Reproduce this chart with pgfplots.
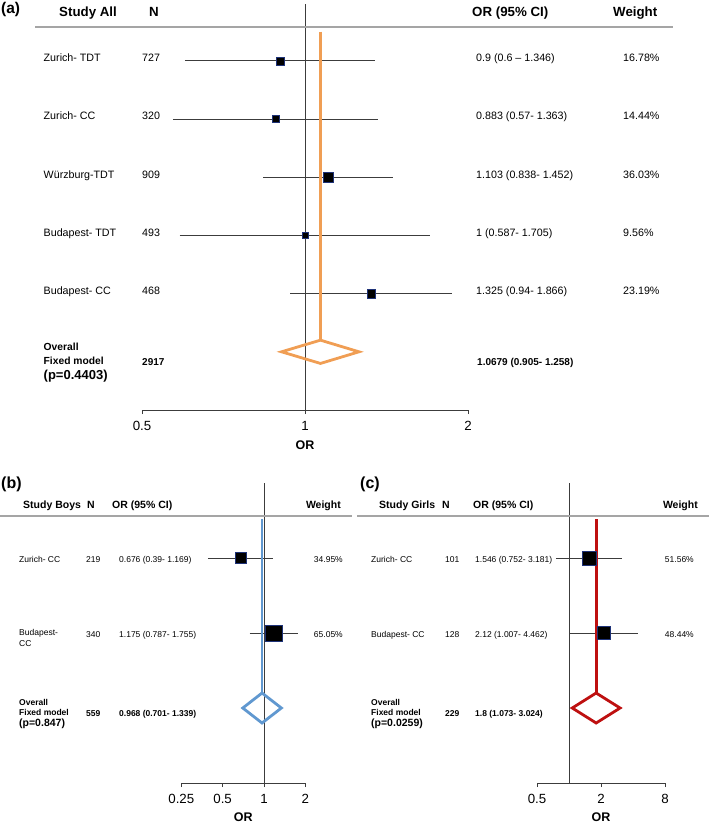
\documentclass[border=0pt]{standalone}
\usepackage{pgfplots}
\pgfplotsset{compat=1.18}
\usepackage{fontspec}
\setmainfont{Liberation Sans}
\definecolor{orng}{RGB}{240,158,84}
\definecolor{bblue}{RGB}{96,152,208}
\definecolor{dred}{RGB}{190,16,16}
\definecolor{sqedge}{RGB}{30,50,120}
\definecolor{hdr}{RGB}{165,165,165}
\definecolor{cil}{RGB}{60,60,60}
\newcommand{\fs}[1]{\fontsize{#1}{#1}\selectfont}
\tikzset{ci/.style={cil, line width=0.8pt}}
\begin{document}
\begin{tikzpicture}
\path[use as bounding box] (0pt,0pt) rectangle (709pt,-824pt);
% ---------------- panel (a)
\begin{axis}[scale only axis, xmode=log, log basis x=2,
  axis x line*=bottom, axis y line=none,
  enlargelimits=false, clip=false,
  tick align=outside, major tick length=4pt,
  x axis line style={draw=cil, line width=0.8pt},
  xtick style={draw=cil, line width=0.8pt},
  xminorticks=false,
  xticklabel style={font=\fs{13.3}, inner sep=0pt, anchor=base, yshift=-16pt},
  at={(142pt,-410pt)}, anchor=south west,
  width=326pt, height=406pt, xmin=0.5, xmax=2, ymin=0, ymax=6.976,
  xtick={0.5,1,2}, xticklabels={0.5,1,2}]
\addplot[cil, line width=0.8pt] coordinates {(1,0) (1,6.976)};
\addplot[ci] coordinates {(0.6,6) (1.346,6)};
\addplot[ci] coordinates {(0.57,5) (1.363,5)};
\addplot[ci] coordinates {(0.838,4) (1.452,4)};
\addplot[ci] coordinates {(0.587,3) (1.705,3)};
\addplot[ci] coordinates {(0.94,2) (1.866,2)};
\addplot[orng, line width=2.8pt] coordinates {(1.0679,6.5) (1.0679,1.2)};
\addplot[orng, line width=2.8pt, line join=miter] coordinates {(0.905,1) (1.0679,1.2) (1.258,1) (1.0679,0.8)} --cycle;
\addplot[only marks, mark=square*, mark options={fill=black, draw=sqedge, line width=0.5pt}, mark size=4pt] coordinates {(0.9,6)};
\addplot[only marks, mark=square*, mark options={fill=black, draw=sqedge, line width=0.5pt}, mark size=3.3pt] coordinates {(0.883,5)};
\addplot[only marks, mark=square*, mark options={fill=black, draw=sqedge, line width=0.5pt}, mark size=5.3pt] coordinates {(1.103,4)};
\addplot[only marks, mark=square*, mark options={fill=black, draw=sqedge, line width=0.5pt}, mark size=2.8pt] coordinates {(1,3)};
\addplot[only marks, mark=square*, mark options={fill=black, draw=sqedge, line width=0.5pt}, mark size=4.3pt] coordinates {(1.325,2)};
\end{axis}
% ---------------- panel (b)
\begin{axis}[scale only axis, xmode=log, log basis x=2,
  axis x line*=bottom, axis y line=none,
  enlargelimits=false, clip=false,
  tick align=outside, major tick length=4pt,
  x axis line style={draw=cil, line width=0.8pt},
  xtick style={draw=cil, line width=0.8pt},
  xminorticks=false,
  xticklabel style={font=\fs{13.3}, inner sep=0pt, anchor=base, yshift=-16pt},
  at={(181.3pt,-783pt)}, anchor=south west,
  width=124pt, height=300pt, xmin=0.25, xmax=2, ymin=0, ymax=4,
  xtick={0.25,0.5,1,2}, xticklabels={0.25,0.5,1,2}]
\addplot[cil, line width=0.8pt] coordinates {(1,0) (1,4)};
\addplot[ci] coordinates {(0.39,3) (1.169,3)};
\addplot[ci] coordinates {(0.787,2) (1.755,2)};
\addplot[bblue, line width=2.8pt] coordinates {(0.968,3.52) (0.968,1.2)};
\addplot[bblue, line width=2.8pt, line join=miter] coordinates {(0.701,1) (0.968,1.2) (1.339,1) (0.968,0.8)} --cycle;
\addplot[only marks, mark=square*, mark options={fill=black, draw=sqedge, line width=0.5pt}, mark size=5.3pt] coordinates {(0.676,3)};
\addplot[only marks, mark=square*, mark options={fill=black, draw=sqedge, line width=0.5pt}, mark size=8.2pt] coordinates {(1.175,2)};
\end{axis}
% ---------------- panel (c)
\begin{axis}[scale only axis, xmode=log, log basis x=2,
  axis x line*=bottom, axis y line=none,
  enlargelimits=false, clip=false,
  tick align=outside, major tick length=4pt,
  x axis line style={draw=cil, line width=0.8pt},
  xtick style={draw=cil, line width=0.8pt},
  xminorticks=false,
  xticklabel style={font=\fs{13.3}, inner sep=0pt, anchor=base, yshift=-16pt},
  at={(537pt,-783pt)}, anchor=south west,
  width=128pt, height=300pt, xmin=0.5, xmax=8, ymin=0, ymax=4,
  xtick={0.5,2,8}, xticklabels={0.5,2,8}]
\addplot[cil, line width=0.8pt] coordinates {(1,0) (1,4)};
\addplot[ci] coordinates {(0.752,3) (3.181,3)};
\addplot[ci] coordinates {(1.007,2) (4.462,2)};
\addplot[dred, line width=2.8pt] coordinates {(1.8,3.52) (1.8,1.2)};
\addplot[dred, line width=2.8pt, line join=miter] coordinates {(1.073,1) (1.8,1.2) (3.024,1) (1.8,0.8)} --cycle;
\addplot[only marks, mark=square*, mark options={fill=black, draw=sqedge, line width=0.5pt}, mark size=6.8pt] coordinates {(1.546,3)};
\addplot[only marks, mark=square*, mark options={fill=black, draw=sqedge, line width=0.5pt}, mark size=6.3pt] coordinates {(2.12,2)};
\end{axis}
% ---------------- texts
\begin{scope}[x=1pt, y=-1pt]
% (a)
\node[anchor=base west, inner sep=0] at (1,14) {\fs{15.5}\bfseries (a)};
\begin{scope}[every node/.style={anchor=base west, inner sep=0, font=\fs{13.3}\bfseries}]
\node at (59,16.7) {Study All};
\node at (149,16.7) {N};
\node at (472,16.7) {OR (95\% CI)};
\node at (613,16.7) {Weight};
\end{scope}
\draw[hdr, line width=2pt] (35,27) -- (673,27);
\begin{scope}[every node/.style={anchor=base west, inner sep=0, font=\fs{10.7}}]
\node at (43.5,62) {Zurich- TDT};   \node at (142,62) {727}; \node at (476,62) {0.9 (0.6 – 1.346)}; \node at (623,62) {16.78\%};
\node at (43.5,120) {Zurich- CC};   \node at (142,120) {320}; \node at (476,120) {0.883 (0.57- 1.363)}; \node at (623,120) {14.44\%};
\node at (43.5,178) {Würzburg-TDT}; \node at (142,178) {909}; \node at (476,178) {1.103 (0.838- 1.452)}; \node at (623,178) {36.03\%};
\node at (43.5,236.5) {Budapest- TDT}; \node at (142,236.5) {493}; \node at (476,236.5) {1 (0.587- 1.705)}; \node at (623,236.5) {9.56\%};
\node at (43.5,294.6) {Budapest- CC}; \node at (142,294.6) {468}; \node at (476,294.6) {1.325 (0.94- 1.866)}; \node at (623,294.6) {23.19\%};
\end{scope}
\begin{scope}[every node/.style={anchor=base west, inner sep=0, font=\fs{10.3}\bfseries}]
\node at (43.5,350.7) {Overall};
\node at (43.5,364) {Fixed model};
\node[font=\fs{13}\bfseries] at (43.5,379) {(p=0.4403)};
\node[font=\fs{10}\bfseries] at (142,365) {2917};
\node[font=\fs{10}\bfseries] at (477,365) {1.0679 (0.905- 1.258)};
\end{scope}
\node[anchor=base, inner sep=0, font=\fs{12.5}\bfseries] at (305,449.3) {OR};
% (b)
\node[anchor=base west, inner sep=0] at (1,488.5) {\fs{16}\bfseries (b)};
\begin{scope}[every node/.style={anchor=base west, inner sep=0, font=\fs{10.5}\bfseries}]
\node at (23,508) {Study Boys};
\node at (87,508) {N};
\node at (112,508) {OR (95\% CI)};
\node[anchor=base east] at (341,508) {Weight};
\end{scope}
\draw[hdr, line width=2pt] (0,516) -- (352,516);
\begin{scope}[every node/.style={anchor=base west, inner sep=0, font=\fs{8.5}}]
\node at (19,562) {Zurich- CC}; \node at (86,562) {219}; \node at (119,562) {0.676 (0.39- 1.169)}; \node[anchor=base east] at (343,562) {34.95\%};
\node at (19,635.5) {Budapest-}; \node at (19,646) {CC}; \node at (86,637.5) {340}; \node at (119,637.5) {1.175 (0.787- 1.755)}; \node[anchor=base east] at (343,637.5) {65.05\%};
\end{scope}
\begin{scope}[every node/.style={anchor=base west, inner sep=0, font=\fs{8.5}\bfseries}]
\node at (19,705) {Overall};
\node at (19,715) {Fixed model};
\node[font=\fs{10.5}\bfseries] at (19,726) {(p=0.847)};
\node at (86,716.5) {559};
\node at (119,716.5) {0.968 (0.701- 1.339)};
\end{scope}
\node[anchor=base, inner sep=0, font=\fs{12.5}\bfseries] at (243.3,821.7) {OR};
% (c)
\node[anchor=base west, inner sep=0] at (360,488.5) {\fs{16}\bfseries (c)};
\begin{scope}[every node/.style={anchor=base west, inner sep=0, font=\fs{10.5}\bfseries}]
\node at (379,508) {Study Girls};
\node at (442,508) {N};
\node at (473,508) {OR (95\% CI)};
\node[anchor=base east] at (698,508) {Weight};
\end{scope}
\draw[hdr, line width=2pt] (357,516) -- (709,516);
\begin{scope}[every node/.style={anchor=base west, inner sep=0, font=\fs{8.5}}]
\node at (371,562) {Zurich- CC}; \node at (445,562) {101}; \node at (475,562) {1.546 (0.752- 3.181)}; \node[anchor=base east] at (694,562) {51.56\%};
\node at (371,637.5) {Budapest- CC}; \node at (445,637.5) {128}; \node at (475,637.5) {2.12 (1.007- 4.462)}; \node[anchor=base east] at (694,637.5) {48.44\%};
\end{scope}
\begin{scope}[every node/.style={anchor=base west, inner sep=0, font=\fs{8.5}\bfseries}]
\node at (371,705) {Overall};
\node at (371,715) {Fixed model};
\node[font=\fs{10.5}\bfseries] at (371,726) {(p=0.0259)};
\node at (445,716.5) {229};
\node at (475,716.5) {1.8 (1.073- 3.024)};
\end{scope}
\node[anchor=base, inner sep=0, font=\fs{12.5}\bfseries] at (601,821.7) {OR};
\end{scope}
\end{tikzpicture}
\end{document}
